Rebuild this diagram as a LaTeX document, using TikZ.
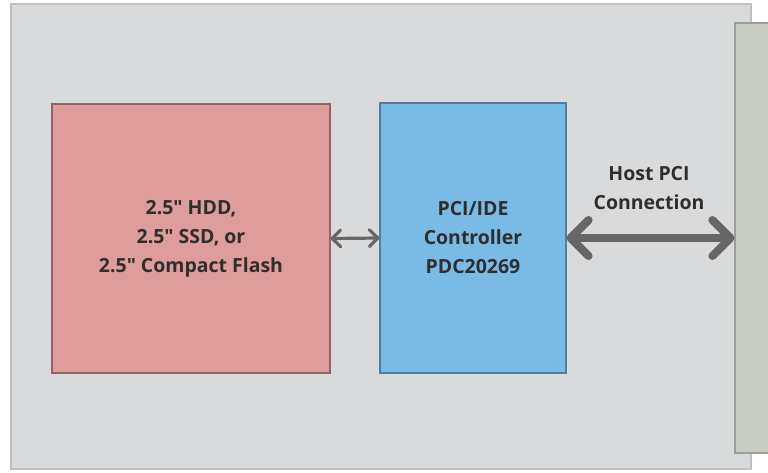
\documentclass[tikz,border=0pt]{standalone}
\usepackage{fontspec}
\setmainfont{Open Sans}
\usetikzlibrary{arrows.meta}
\definecolor{boardfill}{HTML}{D9DADC}
\definecolor{boardline}{HTML}{BEBFC1}
\definecolor{drivefill}{HTML}{DE9C9C}
\definecolor{driveline}{HTML}{936466}
\definecolor{ctrlfill}{HTML}{7ABBE6}
\definecolor{ctrlline}{HTML}{4F7FA0}
\definecolor{hostfill}{HTML}{C9CCC3}
\definecolor{hostline}{HTML}{9B9D97}
\definecolor{linkgray}{HTML}{666666}
\definecolor{textgray}{HTML}{2E2E2E}

\begin{document}
\begin{tikzpicture}[x=0.75pt,y=-0.75pt,>/.tip={Straight Barb[round]},
	block/.style={draw,line width=0.9pt,inner sep=0pt,align=center,
		font=\fontsize{14.6}{21.75}\selectfont\bfseries,text=textgray}]
	\useasboundingbox (0,0) rectangle (768,472);
	\draw[fill=boardfill,draw=boardline,line width=0.9pt] (11,4) rectangle (751,469);
	\node (drive) [block,fill=drivefill,draw=driveline,minimum width=208.5pt,minimum height=201.75pt] at (191,238.5) {2.5\textquotedbl{} HDD,\\2.5\textquotedbl{} SSD, or\\2.5\textquotedbl{} Compact Flash};
	\node (ctrl) [block,fill=ctrlfill,draw=ctrlline,minimum width=139.5pt,minimum height=202.5pt] at (473,238) {PCI/IDE\\Controller\\PDC20269};
	\node (host) [block,fill=hostfill,draw=hostline,minimum width=45pt,minimum height=322.5pt] at (765,238) {};
	\node (pci) [block,draw=none,anchor=center] at (649,188) {Host PCI\\Connection};
	\draw[<->,linkgray,line width=2.4pt] (drive.east) -- (ctrl.west);
	\draw[<->,linkgray,line width=6pt] (ctrl.east) -- (host.west);
\end{tikzpicture}
\end{document}
